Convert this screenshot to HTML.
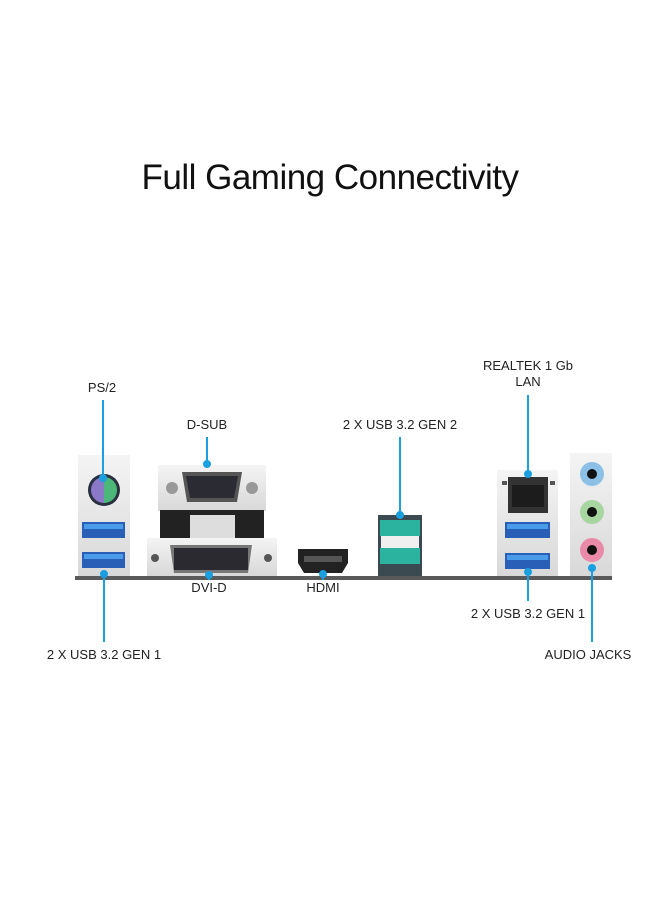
<!DOCTYPE html>
<html><head><style>
body{margin:0;width:660px;height:900px;background:#fff;position:relative;font-family:"Liberation Sans",sans-serif;overflow:hidden}
.t{position:absolute;font-size:13px;color:#222;white-space:nowrap;transform:translateX(-50%)}
</style></head><body>
<div class="t" style="left:330px;top:158px;font-size:35px;color:#111;letter-spacing:-0.5px">Full Gaming Connectivity</div>
<div class="t" style="left:102px;top:380px">PS/2</div>
<div class="t" style="left:207px;top:417px">D-SUB</div>
<div class="t" style="left:400px;top:417px">2 X USB 3.2 GEN 2</div>
<div class="t" style="left:528px;top:358px;text-align:center;line-height:16px">REALTEK 1 Gb<br>LAN</div>
<div class="t" style="left:209px;top:580px">DVI-D</div>
<div class="t" style="left:323px;top:580px">HDMI</div>
<div class="t" style="left:528px;top:606px">2 X USB 3.2 GEN 1</div>
<div class="t" style="left:104px;top:647px">2 X USB 3.2 GEN 1</div>
<div class="t" style="left:588px;top:647px">AUDIO JACKS</div>
<svg width="660" height="900" style="position:absolute;left:0;top:0">
<defs>
<linearGradient id="g" x1="0" y1="0" x2="0" y2="1"><stop offset="0" stop-color="#f4f4f4"/><stop offset="1" stop-color="#d8d8d8"/></linearGradient>
</defs>
<!-- PS2 block -->
<rect x="78" y="455" width="52" height="122" fill="url(#g)"/>
<circle cx="104" cy="490" r="16" fill="#2a3040"/>
<path d="M104 477 a13 13 0 0 0 0 26z" fill="#8a78c8"/><path d="M104 477 a13 13 0 0 1 0 26z" fill="#4bb87a"/>
<rect x="82" y="522" width="43" height="16" fill="#2a5fb8"/><rect x="84" y="524" width="39" height="5" fill="#4a9be8"/>
<rect x="82" y="552" width="43" height="16" fill="#2a5fb8"/><rect x="84" y="554" width="39" height="5" fill="#4a9be8"/>
<!-- VGA -->
<rect x="158" y="465" width="108" height="46" fill="url(#g)"/>
<circle cx="172" cy="488" r="6" fill="#999"/><circle cx="252" cy="488" r="6" fill="#999"/>
<path d="M182 472 h60 l-5 30 h-50z" fill="#555"/><path d="M186 476 h52 l-4 22 h-44z" fill="#2b2b33"/>
<rect x="160" y="510" width="104" height="30" fill="#222"/>
<rect x="190" y="515" width="45" height="25" fill="#ddd"/>
<!-- DVI -->
<rect x="147" y="538" width="130" height="38" fill="url(#g)"/>
<circle cx="155" cy="558" r="4" fill="#555"/><circle cx="268" cy="558" r="4" fill="#555"/>
<path d="M170 545 h82 l-4 28 h-74z" fill="#777"/><rect x="174" y="548" width="74" height="22" fill="#2a2a30"/>
<!-- HDMI -->
<path d="M298 549 h50 v14 l-6 10 h-38 l-6 -10z" fill="#222"/><rect x="304" y="556" width="38" height="6" fill="#555"/>
<!-- green USB -->
<rect x="378" y="515" width="44" height="61" fill="#3a4a50"/>
<rect x="380" y="520" width="40" height="16" fill="#2bb3a0"/><rect x="381" y="536" width="38" height="12" fill="#f0f0f0"/>
<rect x="380" y="548" width="40" height="16" fill="#2bb3a0"/>
<!-- LAN block -->
<rect x="497" y="470" width="61" height="107" fill="url(#g)"/>
<rect x="508" y="477" width="40" height="36" fill="#333"/><rect x="512" y="485" width="32" height="22" fill="#1c1c1c"/>
<rect x="502" y="481" width="5" height="4" fill="#555"/><rect x="550" y="481" width="5" height="4" fill="#555"/>
<rect x="505" y="522" width="45" height="16" fill="#2a5fb8"/><rect x="507" y="524" width="41" height="5" fill="#4a9be8"/>
<rect x="505" y="553" width="45" height="16" fill="#2a5fb8"/><rect x="507" y="555" width="41" height="5" fill="#4a9be8"/>
<!-- audio -->
<rect x="570" y="453" width="42" height="124" fill="url(#g)"/>
<circle cx="592" cy="474" r="12" fill="#8cc0e6"/><circle cx="592" cy="474" r="5" fill="#111"/>
<circle cx="592" cy="512" r="12" fill="#a8d6a0"/><circle cx="592" cy="512" r="5" fill="#111"/>
<circle cx="592" cy="550" r="12" fill="#e88aa8"/><circle cx="592" cy="550" r="5" fill="#111"/>
<!-- base bar -->
<rect x="75" y="576" width="537" height="4" fill="#5a5a5a"/>
<!-- callout lines -->
<g stroke="#1a9fe0" stroke-width="2" fill="#1a9fe0">
<line x1="103" y1="400" x2="103" y2="478"/><circle cx="103" cy="478" r="3"/>
<line x1="207" y1="437" x2="207" y2="464"/><circle cx="207" cy="464" r="3"/>
<line x1="400" y1="437" x2="400" y2="515"/><circle cx="400" cy="515" r="3"/>
<line x1="528" y1="395" x2="528" y2="474"/><circle cx="528" cy="474" r="3"/>
<line x1="104" y1="574" x2="104" y2="642"/><circle cx="104" cy="574" r="3"/>
<line x1="209" y1="575" x2="209" y2="580"/><circle cx="209" cy="575" r="3"/>
<line x1="323" y1="574" x2="323" y2="580"/><circle cx="323" cy="574" r="3"/>
<line x1="528" y1="572" x2="528" y2="601"/><circle cx="528" cy="572" r="3"/>
<line x1="592" y1="568" x2="592" y2="642"/><circle cx="592" cy="568" r="3"/>
</g>
</svg>
</body></html>
